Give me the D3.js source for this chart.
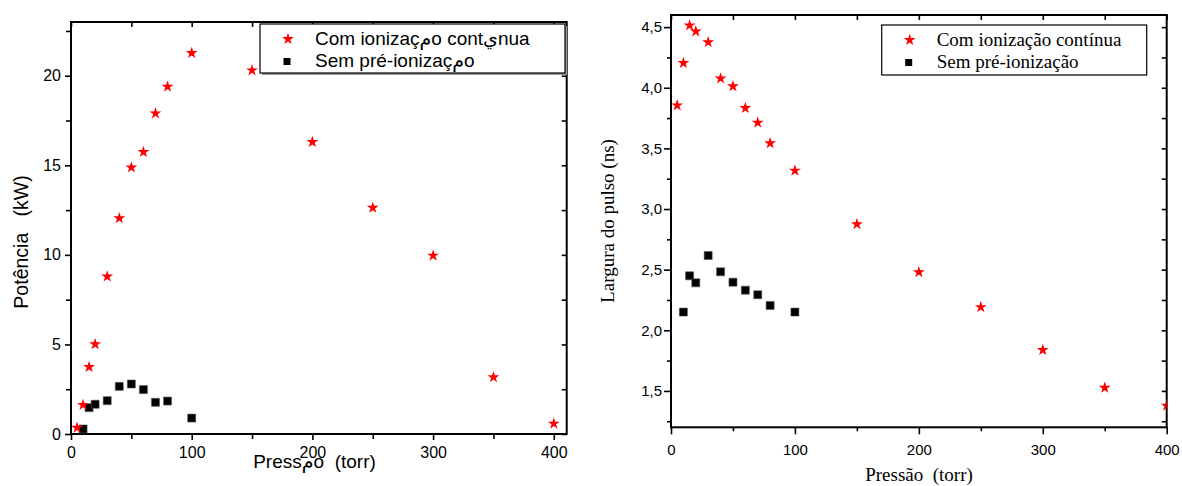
<!DOCTYPE html>
<html><head><meta charset="utf-8">
<script src="https://cdn.jsdelivr.net/npm/d3@7/dist/d3.min.js"></script>
<style>body{margin:0;background:#fff} svg{display:block}</style>
</head><body>
<svg id="c" width="1182" height="486"></svg>
<script>
// ---- data ----
const pressaoCom = [5,10,15,20,30,40,50,60,70,80,100,150,200,250,300,350,400];
const potenciaCom = [0.35,1.62,3.74,5.01,8.79,12.05,14.88,15.74,17.9,19.39,21.27,20.3,16.3,12.63,9.96,3.17,0.58];
const pressaoSem = [10,15,20,30,40,50,60,70,80,100];
const potenciaSem = [0.28,1.47,1.66,1.86,2.66,2.79,2.48,1.77,1.84,0.89];
const larguraCom = [3.855,4.204,4.514,4.465,4.376,4.077,4.012,3.833,3.712,3.542,3.317,2.875,2.479,2.191,1.837,1.526,1.378];
const larguraSem = [2.15,2.449,2.391,2.617,2.482,2.397,2.331,2.293,2.205,2.15];

const xTicksMajor = [0,100,200,300,400];
const xTicksMinor = [50,150,250,350];
const xTicksAll = [0,50,100,150,200,250,300,350,400];
const potTicksMajor = [0,5,10,15,20];
const potTicksMinor = [2.5,7.5,12.5,17.5,22.5];
const potTicksAll = [0,2.5,5,7.5,10,12.5,15,17.5,20,22.5];
const largTicksMajor = [1.5,2.0,2.5,3.0,3.5,4.0,4.5];
const largTicksMinor = [1.25,1.75,2.25,2.75,3.25,3.75,4.25];
const largTicksAll = [1.25,1.5,1.75,2.0,2.25,2.5,2.75,3.0,3.25,3.5,3.75,4.0,4.25,4.5];

// labels (as they appear in the original, including its mis-encoded characters)
const leftLegend = ["Com ionizaçمo contيnua", "Sem pré-ionizaçمo"];
const leftXTitle = "Pressمo  (torr)";
const leftYTitle = "Potência   (kW)";
const rightLegend = ["Com ionização contínua", "Sem pré-ionização"];
const rightXTitle = "Pressão  (torr)";
const rightYTitle = "Largura do pulso (ns)";

const SANS = "'Liberation Sans', Arial, 'DejaVu Sans', sans-serif";
const SERIF = "'Liberation Serif', 'Times New Roman', 'DejaVu Serif', serif";

const svg = d3.select('#c');
const defs = svg.append('defs');

function styleAxis(sel, font, size) {
  sel.select('.domain').remove();
  sel.selectAll('line').attr('stroke', '#000').attr('stroke-width', 1.6);
  sel.selectAll('text').attr('font-family', font).attr('font-size', size).attr('fill', '#000');
}

function panel(cfg) {
  const x = cfg.x, y = cfg.y;
  const [x0, x1] = x.range();
  const [y0, y1] = y.range();
  const g = svg.append('g');

  defs.append('clipPath').attr('id', cfg.id).append('rect')
    .attr('x', x0).attr('y', y1).attr('width', x1 - x0).attr('height', y0 - y1);

  // bottom major + minor (outside)
  g.append('g').attr('transform', `translate(0,${y0})`)
    .call(d3.axisBottom(x).tickValues(xTicksMajor).tickSize(cfg.majLen).tickPadding(cfg.xPad).tickFormat(d3.format('d')))
    .call(s => styleAxis(s, SANS, cfg.tickFont));
  g.append('g').attr('transform', `translate(0,${y0})`)
    .call(d3.axisBottom(x).tickValues(xTicksMinor).tickSize(cfg.minLen).tickFormat(''))
    .call(s => styleAxis(s, SANS, cfg.tickFont));
  // left major + minor (outside)
  g.append('g').attr('transform', `translate(${x0},0)`)
    .call(d3.axisLeft(y).tickValues(cfg.yMajor).tickSize(cfg.majLen).tickPadding(cfg.yPad).tickFormat(cfg.yFmt))
    .call(s => styleAxis(s, SANS, cfg.tickFont));
  g.append('g').attr('transform', `translate(${x0},0)`)
    .call(d3.axisLeft(y).tickValues(cfg.yMinor).tickSize(cfg.minLen).tickFormat(''))
    .call(s => styleAxis(s, SANS, cfg.tickFont));
  // top (inward)
  g.append('g').attr('transform', `translate(0,${y1})`)
    .call(d3.axisBottom(x).tickValues(xTicksAll).tickSize(cfg.inLen).tickFormat(''))
    .call(s => styleAxis(s, SANS, cfg.tickFont));
  // right (inward)
  g.append('g').attr('transform', `translate(${x1},0)`)
    .call(d3.axisLeft(y).tickValues(cfg.yAll).tickSize(cfg.inLen).tickFormat(''))
    .call(s => styleAxis(s, SANS, cfg.tickFont));

  // frame
  g.append('rect').attr('x', x0).attr('y', y1).attr('width', x1 - x0).attr('height', y0 - y1)
    .attr('fill', 'none').attr('stroke', '#000').attr('stroke-width', 2);

  // data
  const pts = g.append('g').attr('clip-path', `url(#${cfg.id})`);
  const star = d3.symbol(d3.symbolStar, 44)();
  const sq = d3.symbol(d3.symbolSquare, 64)();
  pts.selectAll('path.sq').data(cfg.sx.map((p, i) => [p, cfg.sy[i]])).join('path')
    .attr('class', 'sq').attr('d', sq).attr('fill', '#000')
    .attr('stroke', '#555').attr('stroke-width', 0.6)
    .attr('transform', d => `translate(${x(d[0])},${y(d[1])})`);
  pts.selectAll('path.st').data(cfg.cx.map((p, i) => [p, cfg.cy[i]])).join('path')
    .attr('class', 'st').attr('d', star).attr('fill', '#ff0000')
    .attr('transform', d => `translate(${x(d[0])},${y(d[1])})`);

  // legend
  const L = cfg.legend;
  if (L.shadow) {
    g.append('rect').attr('x', L.x + 2).attr('y', L.y + 2).attr('width', L.w).attr('height', L.h).attr('fill', '#999');
  }
  g.append('rect').attr('x', L.x).attr('y', L.y).attr('width', L.w).attr('height', L.h)
    .attr('fill', '#fff').attr('stroke', '#000').attr('stroke-width', 1.2);
  g.append('path').attr('d', star).attr('fill', '#ff0000')
    .attr('transform', `translate(${L.x + 28},${L.y + 15})`);
  g.append('path').attr('d', d3.symbol(d3.symbolSquare, 49)()).attr('fill', '#000')
    .attr('transform', `translate(${L.x + 27},${L.y + 37.5})`);
  g.append('text').attr('x', L.x + 55).attr('y', L.y + 21).text(cfg.legendText[0])
    .attr('font-family', L.font).attr('font-size', L.size).attr('fill', '#000');
  g.append('text').attr('x', L.x + 55).attr('y', L.y + 43).text(cfg.legendText[1])
    .attr('font-family', L.font).attr('font-size', L.size).attr('fill', '#000');

  // titles
  g.append('text').attr('x', cfg.xt.x).attr('y', cfg.xt.y).attr('text-anchor', 'middle')
    .style('white-space', 'pre').attr('font-family', cfg.titleFont).attr('font-size', cfg.titleSize)
    .text(cfg.xTitle);
  g.append('text').attr('transform', `translate(${cfg.yt.x},${cfg.yt.y}) rotate(-90)`)
    .attr('text-anchor', 'middle').style('white-space', 'pre')
    .attr('font-family', cfg.titleFont).attr('font-size', cfg.yTitleSize || cfg.titleSize)
    .text(cfg.yTitle);
}

// left panel
panel({
  id: 'clipL',
  x: d3.scaleLinear().domain([0, 410.7]).range([71, 566.7]),
  y: d3.scaleLinear().domain([0, 23]).range([434, 22]),
  yMajor: potTicksMajor, yMinor: potTicksMinor, yAll: potTicksAll,
  yFmt: d3.format('d'),
  majLen: 6, minLen: 5, inLen: 5, xPad: 7, yPad: 4, tickFont: 16,
  cx: pressaoCom, cy: potenciaCom, sx: pressaoSem, sy: potenciaSem,
  legend: {x: 260, y: 24, w: 305, h: 49, font: SANS, size: 19, shadow: true},
  legendText: leftLegend,
  xTitle: leftXTitle, yTitle: leftYTitle, titleFont: SANS, titleSize: 19, yTitleSize: 19.5,
  xt: {x: 314.5, y: 468}, yt: {x: 28, y: 242}
});

// right panel
panel({
  id: 'clipR',
  x: d3.scaleLinear().domain([0, 400]).range([671, 1166.7]),
  y: d3.scaleLinear().domain([1.2, 4.6]).range([427.3, 15]),
  yMajor: largTicksMajor, yMinor: largTicksMinor, yAll: largTicksAll,
  yFmt: d => d3.format('.1f')(d).replace('.', ','),
  majLen: 7, minLen: 4, inLen: 5, xPad: 10, yPad: 2, tickFont: 15,
  cx: pressaoCom, cy: larguraCom, sx: pressaoSem, sy: larguraSem,
  legend: {x: 881.7, y: 25, w: 265, h: 50, font: SERIF, size: 19, shadow: false},
  legendText: rightLegend,
  xTitle: rightXTitle, yTitle: rightYTitle, titleFont: SERIF, titleSize: 19,
  xt: {x: 919, y: 481}, yt: {x: 614, y: 221}
});
</script>
</body></html>
